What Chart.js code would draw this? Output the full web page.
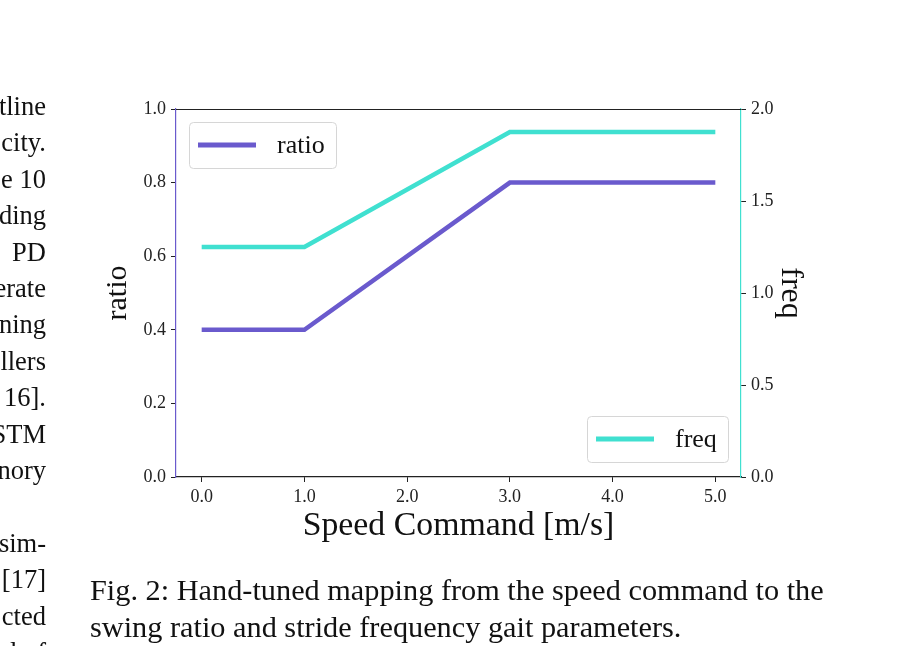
<!DOCTYPE html>
<html>
<head>
<meta charset="utf-8">
<script src="https://cdn.jsdelivr.net/npm/chart.js@4/dist/chart.umd.min.js"></script>
<style>
  html, body { margin: 0; padding: 0; background: #fff; }
  #wrap { position: relative; width: 915px; height: 646px; overflow: hidden; background: #fff; }
  #c { position: absolute; left: 0; top: 0; }
  .serif { font-family: "Liberation Serif", "Times New Roman", serif; color: #111; }
  #side { position: absolute; right: 869px; top: 88px; width: 200px; text-align: right; font-size: 26.5px; line-height: 36.4px; white-space: pre; }
  #caption { position: absolute; left: 90px; top: 572px; font-size: 30.3px; line-height: 37px; white-space: pre; }
</style>
</head>
<body>
<div id="wrap">
  <canvas id="c" width="915" height="646"></canvas>
  <div id="side" class="serif">tline
city.
e 10
ding
PD
erate
ning
llers
16].
LSTM
nory

sim-
[17]
cted
l of</div>
  <div id="caption" class="serif">Fig. 2: Hand-tuned mapping from the speed command to the
swing ratio and stride frequency gait parameters.</div>
</div>
<script>
// ---- data ----
const speeds = [0.0, 1.0, 3.0, 5.0];
const ratioValues = [0.4, 0.4, 0.8, 0.8];
const freqValues = [1.25, 1.25, 1.875, 1.875];
const xTickValues = [0, 1, 2, 3, 4, 5];
const ratioTickValues = [0.0, 0.2, 0.4, 0.6, 0.8, 1.0];
const freqTickValues = [0.0, 0.5, 1.0, 1.5, 2.0];
const seriesNames = ['ratio', 'freq'];

const RATIO_COLOR = '#6a5acd';
const FREQ_COLOR = '#40e0d0';
const FONT = '"Liberation Serif", "Times New Roman", serif';

const pts = (vals) => speeds.map((s, i) => ({ x: s, y: vals[i] }));

const legendPlugin = {
  id: 'twoLegends',
  afterDatasetsDraw(chart) {
    const ctx = chart.ctx;
    const a = chart.chartArea;
    const boxes = [
      { ds: 0, x: a.left + 13, y: a.top + 13, w: 147, h: 46 },
      { ds: 1, x: a.right - 13 - 141, y: a.bottom - 15 - 46, w: 141, h: 46 }
    ];
    ctx.save();
    for (const b of boxes) {
      const ds = chart.data.datasets[b.ds];
      ctx.beginPath();
      ctx.roundRect(b.x + 0.5, b.y + 0.5, b.w, b.h, 4);
      ctx.fillStyle = 'rgba(255,255,255,0.8)';
      ctx.fill();
      ctx.strokeStyle = '#d6d6d6';
      ctx.lineWidth = 1;
      ctx.stroke();
      const cy = b.y + b.h / 2;
      ctx.beginPath();
      ctx.moveTo(b.x + 9, cy);
      ctx.lineTo(b.x + 67, cy);
      ctx.strokeStyle = ds.borderColor;
      ctx.lineWidth = 5;
      ctx.stroke();
      ctx.fillStyle = '#111';
      ctx.font = '26px ' + FONT;
      ctx.textBaseline = 'middle';
      ctx.textAlign = 'left';
      ctx.fillText(ds.label, b.x + 88, cy + 1);
    }
    // top spine
    ctx.beginPath();
    ctx.moveTo(a.left, a.top + 0.5);
    ctx.lineTo(a.right, a.top + 0.5);
    ctx.strokeStyle = '#222';
    ctx.lineWidth = 1.2;
    ctx.stroke();
    ctx.restore();
  }
};

new Chart(document.getElementById('c'), {
  type: 'line',
  data: {
    datasets: [
      { label: seriesNames[0], data: pts(ratioValues), yAxisID: 'y', borderColor: RATIO_COLOR, backgroundColor: RATIO_COLOR, borderWidth: 4.5, pointRadius: 0, tension: 0, fill: false },
      { label: seriesNames[1], data: pts(freqValues), yAxisID: 'y2', borderColor: FREQ_COLOR, backgroundColor: FREQ_COLOR, borderWidth: 4.5, pointRadius: 0, tension: 0, fill: false }
    ]
  },
  options: {
    responsive: false,
    animation: false,
    devicePixelRatio: 1,
    layout: { padding: { left: 100, right: 105, top: 109, bottom: 100 } },
    plugins: { legend: { display: false }, tooltip: { enabled: false } },
    scales: {
      x: {
        type: 'linear', min: -0.25, max: 5.25,
        afterBuildTicks: (s) => { s.ticks = xTickValues.map(v => ({ value: v })); },
        afterFit: (s) => { s.height = 69; },
        grid: { drawOnChartArea: false, drawTicks: true, tickLength: 5, color: '#222', tickWidth: 1 },
        border: { display: true, color: '#222', width: 1.2 },
        ticks: { font: { family: FONT, size: 18 }, color: '#222', padding: 4, maxRotation: 0, callback: (v) => Number(v).toFixed(1) },
        title: { display: true, text: 'Speed Command [m/s]', font: { family: FONT, size: 33.8 }, color: '#111', padding: 0 }
      },
      y: {
        type: 'linear', position: 'left', min: 0, max: 1,
        afterBuildTicks: (s) => { s.ticks = ratioTickValues.map(v => ({ value: v })); },
        afterFit: (s) => { s.width = 76; },
        grid: { drawOnChartArea: false, drawTicks: true, tickLength: 5, color: '#222', tickWidth: 1 },
        border: { display: true, color: RATIO_COLOR, width: 1.2 },
        ticks: { font: { family: FONT, size: 18 }, color: '#222', padding: 5, callback: (v) => Number(v).toFixed(1) },
        title: { display: true, text: 'ratio', font: { family: FONT, size: 30 }, color: '#111', padding: 0 }
      },
      y2: {
        type: 'linear', position: 'right', min: 0, max: 2,
        afterBuildTicks: (s) => { s.ticks = freqTickValues.map(v => ({ value: v })); },
        afterFit: (s) => { s.width = 69; },
        grid: { drawOnChartArea: false, drawTicks: true, tickLength: 5, color: '#222', tickWidth: 1 },
        border: { display: true, color: FREQ_COLOR, width: 1.2 },
        ticks: { font: { family: FONT, size: 18 }, color: '#222', padding: 5, callback: (v) => Number(v).toFixed(1) },
        title: { display: true, text: 'freq', font: { family: FONT, size: 32 }, color: '#111', padding: 0 }
      }
    }
  },
  plugins: [legendPlugin]
});
</script>
</body>
</html>
